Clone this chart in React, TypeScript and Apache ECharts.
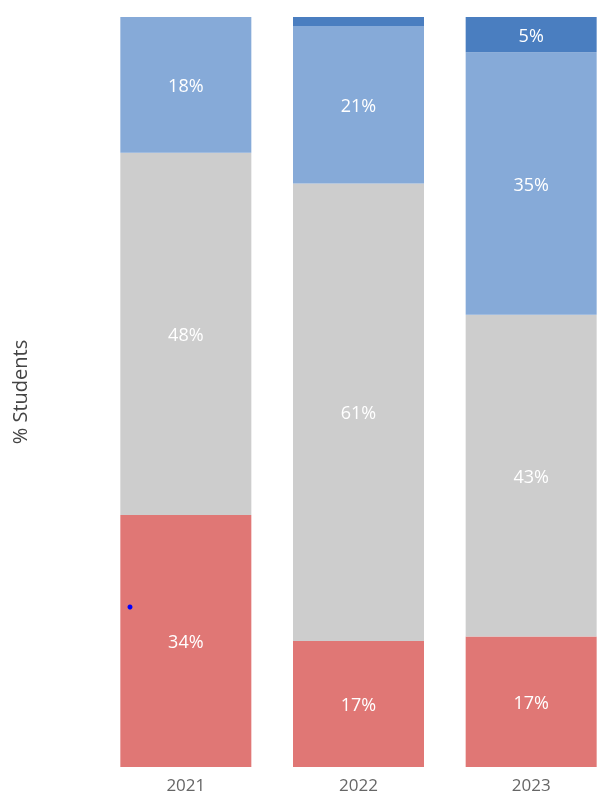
import React, { useEffect, useRef } from "react";
import * as echarts from "echarts";

const years = ["2021", "2022", "2023"];
const redVals = [33.6, 16.8, 17.4];
const grayVals = [48.3, 61.0, 42.9];
const lightBlueVals = [18.1, 21.0, 35.0];
const darkBlueVals = [0, 1.2, 4.7];

const FONT = "'Segoe UI', 'Open Sans', sans-serif";

export default function App() {
  const ref = useRef<HTMLDivElement>(null);
  useEffect(() => {
    if (!ref.current) return;
    const chart = echarts.init(ref.current, null, { renderer: "svg" });
    const label = {
      show: true,
      position: "inside",
      color: "#ffffff",
      fontSize: 18,
      fontFamily: FONT,
      formatter: (p: any) => (p.value >= 3 ? Math.round(p.value) + "%" : ""),
    };
    const mk = (name: string, data: number[], color: string) => ({
      name,
      type: "bar",
      stack: "total",
      data,
      barWidth: 131,
      itemStyle: { color },
      label,
      emphasis: { disabled: true },
    });
    chart.setOption({
      animation: false,
      grid: {
        left: 99.5,
        top: 17,
        width: 518,
        bottom: 30,
        containLabel: false,
        outerBoundsMode: "none",
      },
      xAxis: {
        type: "category",
        data: years,
        axisLine: { show: false },
        axisTick: { show: false },
        axisLabel: { color: "#666666", fontSize: 17, fontFamily: FONT, margin: 9 },
      },
      yAxis: {
        type: "value",
        min: 0,
        max: 100,
        name: "% Students",
        nameLocation: "middle",
        nameGap: 70,
        nameTextStyle: { color: "#444444", fontSize: 20, fontFamily: FONT },
        axisLabel: { show: false },
        axisLine: { show: false },
        axisTick: { show: false },
        splitLine: { show: false },
      },
      series: [
        mk("Red", redVals, "#E07775"),
        mk("Gray", grayVals, "#CDCDCD"),
        mk("Light Blue", lightBlueVals, "#86AAD8"),
        mk("Dark Blue", darkBlueVals, "#4A7EC0"),
      ],
      graphic: [
        { type: "circle", z: 100, shape: { cx: 130, cy: 607, r: 2.5 }, style: { fill: "#0000ff" } },
      ],
    });
    return () => chart.dispose();
  }, []);
  return (
    <div
      ref={ref}
      style={{ position: "fixed", left: 0, top: 0, width: 630, height: 797 }}
    />
  );
}
